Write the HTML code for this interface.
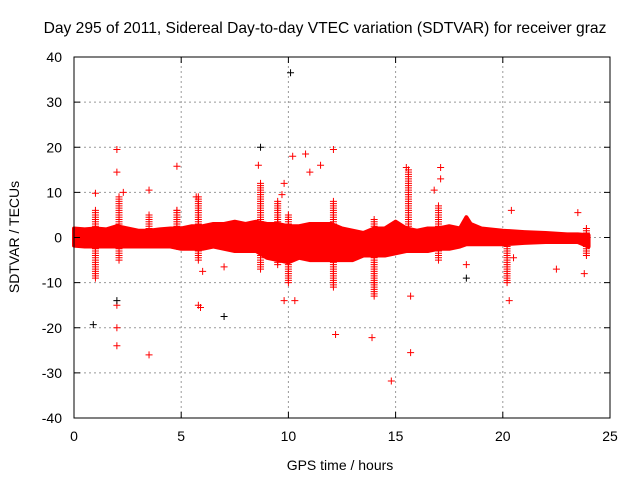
<!DOCTYPE html>
<html><head><meta charset="utf-8"><style>
body{margin:0;background:#fff}
svg{display:block;font-family:"Liberation Sans",sans-serif}
</style></head><body>
<svg id="chart" width="640" height="480" viewBox="0 0 640 480">
<rect width="640" height="480" fill="#fff"/>
<text x="325" y="33" font-size="15.6" text-anchor="middle">Day 295 of 2011, Sidereal Day-to-day VTEC variation (SDTVAR) for receiver graz</text>
<g id="grid"></g>
<g id="band"></g>
<g id="marks"></g>
<g id="axes"></g>
<text x="340" y="470" font-size="14" text-anchor="middle">GPS time / hours</text>
<text transform="translate(19,237) rotate(-90)" font-size="14" text-anchor="middle">SDTVAR / TECUs</text>
</svg>
<script>
const xTicks=[0,5,10,15,20,25];
const yTicks=[-40,-30,-20,-10,0,10,20,30,40];
const bandT=[0,0.5,1,1.5,2,2.5,3,3.5,4,4.5,5,5.5,6,6.5,7,7.5,8,8.5,9,9.5,10,10.5,11,11.5,12,12.5,13,13.5,14,14.5,15,15.5,16,16.5,17,17.5,18,18.3,18.5,19,20,21,22,23,23.5,24];
const bandHi=[2,1.8,2,1.8,2.5,2,1.5,1.5,1.8,2,2,2.5,2.5,3,3,3.5,3,3.5,3,3,2.5,2.5,3,3,3,2,1.5,1,2,2,3.5,2,1.5,2,2,2.5,2,4.5,3,2,1.5,1.2,1,0.7,0.7,0.5];
const bandLo=[-1.8,-2,-2,-2,-2,-2,-2,-2,-2,-2,-2.5,-2.5,-2.5,-2,-2.5,-3,-3,-3,-4.5,-5,-5.5,-4.5,-5,-5,-5,-5,-5,-4,-4,-4,-3.5,-3,-3,-3,-2.5,-2.5,-2,-1.5,-1.5,-1.5,-1.5,-1.2,-1,-1,-1,-2];
const spikeT=[1.0,2.1,3.5,4.8,5.8,8.7,9.5,10.0,12.1,14.0,15.6,17.0,20.2,23.9];
const spikeTop=[6,9,5,6,9,12,8,5,8,4,15,7,0,2];
const spikeBot=[-9,-5,-1,-2,-5,-7,-6,-10,-11,-13,-2,-5,-10,-4];
const outT=[1.0,2.0,2.0,2.0,2.0,2.0,2.3,3.5,3.5,4.8,4.8,5.7,5.8,5.9,6.0,7.0,8.6,9.7,9.8,9.8,10.2,10.3,10.8,11.0,11.5,12.1,12.2,13.9,14.0,14.8,15.5,15.7,15.7,16.8,17.1,17.1,18.3,20.3,20.4,20.5,22.5,23.5,23.8];
const outV=[9.8,19.5,14.5,-15,-20,-24,10,10.5,-26,15.8,6,9,-15,-15.5,-7.5,-6.5,16,9.5,12,-14,18,-14,18.5,14.5,16,19.5,-21.5,-22.2,-10,-31.8,15.5,-13,-25.5,10.5,15.5,13,-6,-14,6,-4.5,-7,5.5,-8];
const blkT=[0.9,2.0,7.0,8.7,10.1,18.3];
const blkV=[-19.3,-14,-17.5,20,36.5,-9];

const X0=74,X1=610,Y0=418,Y1=57;
const sx=t=>X0+(t-0)/25*(X1-X0);
const sy=v=>Y0-(v+40)/80*(Y0-Y1);
const NS='http://www.w3.org/2000/svg';
function mk(tag,attrs,parent){const e=document.createElementNS(NS,tag);for(const k in attrs)e.setAttribute(k,attrs[k]);parent.appendChild(e);return e;}
const grid=document.getElementById('grid'),axes=document.getElementById('axes'),band=document.getElementById('band'),marks=document.getElementById('marks');
xTicks.forEach(t=>{
 if(t>0&&t<25){const l=mk('line',{x1:sx(t),x2:sx(t),y1:Y0,y2:Y1,stroke:'#999','stroke-dasharray':'2,3','stroke-width':1},grid);
 
 }
 const tk=mk('path',{d:`M${sx(t)},${Y0}v-6M${sx(t)},${Y1}v6`,stroke:'#000'},axes);
 
 
 const tx=mk('text',{x:sx(t),y:Y0+23,'font-size':14,'text-anchor':'middle'},axes);tx.textContent=t;
 
 
});
yTicks.forEach(v=>{
 if(v>-40&&v<40){const l=mk('line',{x1:X0,x2:X1,y1:sy(v),y2:sy(v),stroke:'#999','stroke-dasharray':'2,3','stroke-width':1},grid);
 
 }
 const tk=mk('path',{d:`M${X0},${sy(v)}h6M${X1},${sy(v)}h-6`,stroke:'#000'},axes);
 
 
 const tx=mk('text',{x:X0-12,y:sy(v)+5,'font-size':14,'text-anchor':'end'},axes);tx.textContent=v;
 
 
});
const fr=mk('rect',{x:X0,y:Y1,width:X1-X0,height:Y0-Y1,fill:'none',stroke:'#000','stroke-width':1},axes);


let pts=bandT.map((t,i)=>`${sx(t)},${sy(bandHi[i])}`);
for(let i=bandT.length-1;i>=0;i--)pts.push(`${sx(bandT[i])},${sy(bandLo[i])}`);
const poly=mk('polygon',{points:pts.join(' '),fill:'#f00',stroke:'#f00','stroke-width':4,'stroke-linejoin':'round'},band);


function plus(t,v,col,name){const x=sx(t),y=sy(v);
 const p=mk('path',{d:`M${x-3.5},${y}h7M${x},${y-3.5}v7`,stroke:col,'stroke-width':1},marks);
 
 }
spikeT.forEach((t,i)=>{for(let v=spikeBot[i];v<=spikeTop[i];v+=0.5)plus(t,v,'#f00','spike-point');});
outT.forEach((t,i)=>plus(t,outV[i],'#f00','outlier-point'));
blkT.forEach((t,i)=>plus(t,blkV[i],'#000','black-outlier-point'));
</script>
</body></html>
